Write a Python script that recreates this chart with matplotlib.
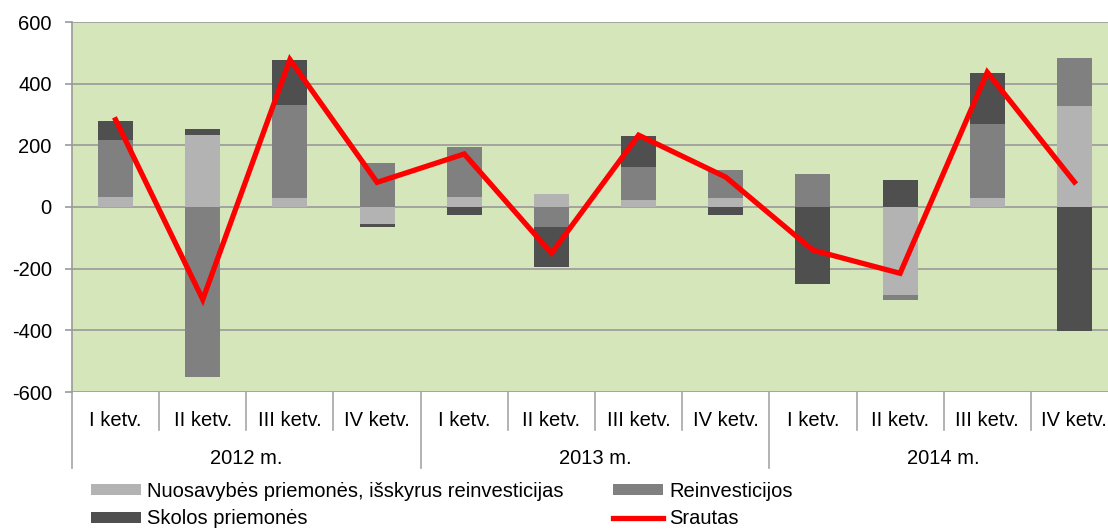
import matplotlib.pyplot as plt
import matplotlib.transforms as mtransforms
import numpy as np

plt.rcParams['font.family'] = ['Liberation Sans', 'DejaVu Sans']
plt.rcParams['axes.unicode_minus'] = False

quarters = ["I ketv.", "II ketv.", "III ketv.", "IV ketv."] * 3
years = ["2012 m.", "2013 m.", "2014 m."]

# values
nuosavybes = [34, 233, 29, -54, 32, 41, 22, 29, 0, -285, 30, 326]
reinvesticijos = [183, -552, 301, 142, 162, -65, 107, 92, 108, -18, 239, 156]
skolos = [63, 20, 146, -11, -25, -129, 102, -27, -250, 86, 165, -401]
srautas = [283, -300, 478, 80, 172, -150, 233, 97, -140, -215, 437, 81]

series = [
    ("Nuosavybės priemonės, išskyrus reinvesticijas", nuosavybes, "#b3b3b3"),
    ("Reinvesticijos", reinvesticijos, "#808080"),
    ("Skolos priemonės", skolos, "#4f4f4f"),
]
FS = 14.5

fig = plt.figure(figsize=(11.08, 5.30), dpi=100)
ax = fig.add_axes([72 / 1108, 1 - 392 / 530, 1046 / 1108, 370 / 530])
ax.set_facecolor("#d6e6bb")

x = np.arange(len(quarters))
pos_base = np.zeros(len(x))
neg_base = np.zeros(len(x))
bars = {}
for name, vals, color in series:
    vals = np.array(vals, dtype=float)
    base = np.where(vals >= 0, pos_base, neg_base)
    bars[name] = ax.bar(x, vals, width=0.4, bottom=base, color=color, label=name, zorder=3)
    pos_base += np.where(vals >= 0, vals, 0)
    neg_base += np.where(vals < 0, vals, 0)

line, = ax.plot(x, srautas, color="#ff0000", lw=3.8, zorder=4, label="Srautas",
                solid_joinstyle="miter")

ax.set_xlim(-0.5, 11.5)
ax.set_ylim(-600, 600)
ax.set_yticks(range(-600, 601, 200))
ax.yaxis.grid(True, color="#999999", lw=1.2, zorder=1)
ax.tick_params(axis="y", labelsize=FS, length=5, color="#999999", pad=9.5, width=1.2)
for s in ["top", "right", "bottom"]:
    ax.spines[s].set_visible(False)
ax.spines["left"].set_color("#999999")
ax.spines["left"].set_linewidth(1.2)

# two-level category axis
ax.set_xticks([])
trans = mtransforms.blended_transform_factory(ax.transData, ax.transAxes)
for i in range(len(quarters) + 1):
    xb = i - 0.5
    y_end = -76 / 370 if i % 4 == 0 else -38 / 370
    ax.plot([xb, xb], [0, y_end], color="#a6a6a6", lw=1.2, transform=trans, clip_on=False)
for i, q in enumerate(quarters):
    ax.text(i, -28 / 370, q, transform=trans, ha="center", va="center", fontsize=FS)
for j, yr in enumerate(years):
    ax.text(4 * j + 1.5, -66 / 370, yr, transform=trans, ha="center", va="center", fontsize=FS)

# legend as two single-column blocks
leg_kw = dict(loc="upper left", frameon=False, fontsize=FS, handlelength=2.5,
              handleheight=0.45, handletextpad=0.3, labelspacing=0.42, borderaxespad=0,
              borderpad=0)
fig.legend([bars[series[0][0]], bars[series[2][0]]], [series[0][0], series[2][0]],
           bbox_to_anchor=(91 / 1108, 1 - 482 / 530), **leg_kw)
fig.legend([bars[series[1][0]], line], [series[1][0], "Srautas"],
           bbox_to_anchor=(613 / 1108, 1 - 482 / 530), **leg_kw)

fig.savefig("out.png", dpi=100)
